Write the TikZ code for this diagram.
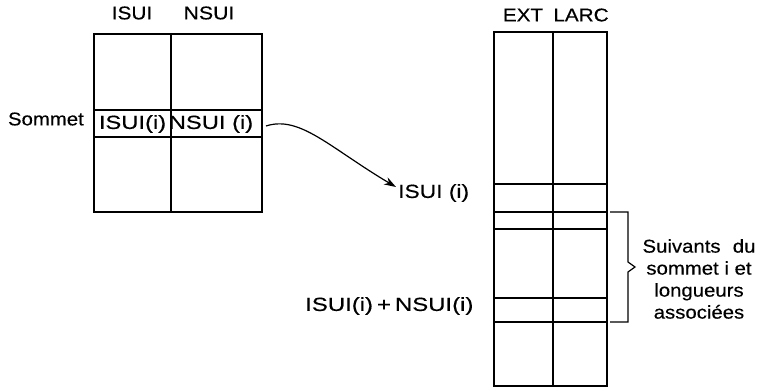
\documentclass[tikz,border=0pt]{standalone}
\usepackage{fontspec}
\usepackage{graphicx}
\setmainfont{Liberation Sans}[FakeBold=0.3]
\usetikzlibrary{arrows.meta}
\newcommand{\wt}[2][1.1]{\scalebox{#1}[1]{#2}}
\begin{document}
\begin{tikzpicture}[x=1pt,y=-1pt,
  tbl/.style={line width=1.8pt},
  thin/.style={line width=1.2pt},
  lbl/.style={font=\fontsize{18.5}{21}\selectfont, inner sep=0pt},
  cell/.style={font=\fontsize{19}{21}\selectfont, inner sep=0pt}]
\useasboundingbox (0,0) rectangle (764,389);
% left table
\draw[tbl] (94,34) rectangle (262,212);
\draw[tbl] (171,34) -- (171,212);
\draw[tbl] (94,110) -- (262,110);
\draw[tbl] (94,137) -- (262,137);
\node[lbl] (hisui) at (132,13) {\wt[1.12]{ISUI}};
\node[lbl] (hnsui) at (209,13) {\wt[1.15]{NSUI}};
\node[lbl, anchor=east] (som) at (84,119) {\wt{Sommet}};
\node[cell] (cisui) at (132.5,124) {\wt[1.25]{ISUI(i)}};
\node[cell] (cnsui) at (211,124) {\wt[1.25]{NSUI (i)}};
% right table
\draw[tbl] (494,32) rectangle (607,386);
\draw[tbl] (553,32) -- (553,386);
\foreach \yy in {184,212,229,298,322} \draw[tbl] (494,\yy) -- (607,\yy);
\node[lbl] (hext) at (523,15) {\wt[1.12]{EXT}};
\node[lbl] (hlarc) at (581,15) {\wt[1.12]{LARC}};
% labels
\node[cell, anchor=west] (lisui) at (398,193) {\wt[1.2]{ISUI (i)}};
\node[cell, anchor=west] (lsum) at (305,306) {\wt[1.26]{ISUI(i)\,+\,NSUI(i)}};
% arrow
\coordinate (astart) at (266,126);
\coordinate (aend) at (396,187);
\draw[thin, -{Stealth[length=12pt,width=8pt]}] (astart) .. controls (300,115) and (330,148) .. (aend);
% brace
\draw[thin] (610,212) -- (628,212) -- (628,262) -- (635,267) -- (628,272) -- (628,322) -- (610,322);
\node[lbl, align=center] (suiv) at (699,279) {\wt{Suivants\hspace{6pt} du}\\[1pt]\wt{sommet i et}\\[1pt]\wt{longueurs}\\[1pt]\wt{associées}};
\end{tikzpicture}
\end{document}
